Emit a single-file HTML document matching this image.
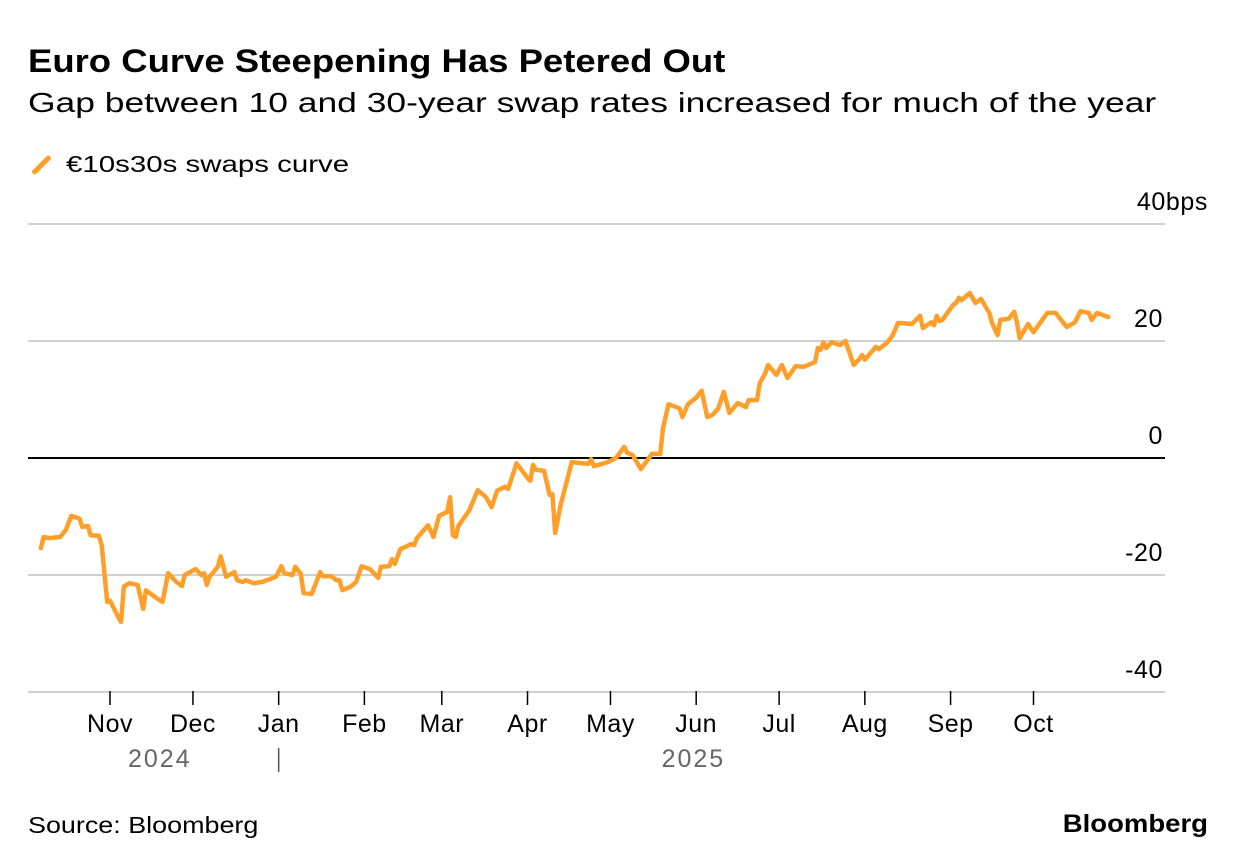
<!DOCTYPE html>
<html><head><meta charset="utf-8"><style>
body{margin:0;background:#fff;width:1237px;height:868px;overflow:hidden;font-family:"Liberation Sans",sans-serif;color:#000}
.t{position:absolute;white-space:nowrap;transform-origin:left top}
</style></head><body>
<div class="t" style="left:28px;top:43px;font-size:32px;font-weight:bold;transform:scaleX(1.14)">Euro Curve Steepening Has Petered Out</div>
<div class="t" style="left:28px;top:87px;font-size:28px;transform:scaleX(1.265)">Gap between 10 and 30-year swap rates increased for much of the year</div>
<div class="t" style="left:39px;top:153px;width:5px;height:24px;background:#ff9f2a;transform:rotate(45deg);transform-origin:center;border-radius:2px"></div>
<div class="t" style="left:66px;top:151px;font-size:23px;transform:scaleX(1.28)">€10s30s swaps curve</div>
<svg id="c" width="1237" height="868" style="position:absolute;left:0;top:0"></svg>
<div class="t" style="left:28px;top:812px;font-size:23px;transform:scaleX(1.17)">Source: Bloomberg</div>
<div class="t" style="right:29px;top:810px;font-size:25px;font-weight:bold;transform:scaleX(1.1);transform-origin:right top">Bloomberg</div>
<script>
const days=[-25,-24,-22,-18,-16,-14,-11,-10,-8,-7,-4,-3,-1,0,3,4,5,7,10,12,13,17,19,21,24,26,27,31,33,34,35,36,39,40,42,45,46,48,49,52,55,60,62,63,66,67,69,70,73,76,77,80,82,83,84,87,89,91,94,97,98,101,102,103,105,109,110,111,115,117,119,122,123,124,125,126,130,133,136,138,140,143,144,147,151,152,153,154,157,159,160,161,163,167,173,174,175,180,183,186,187,189,192,196,199,200,202,206,207,209,212,214,216,218,220,222,224,227,230,231,234,235,237,238,241,243,245,248,251,255,256,257,258,259,261,264,266,269,271,272,273,277,278,281,283,285,290,293,294,297,298,299,300,301,305,306,307,308,311,313,315,318,319,321,322,325,327,328,329,332,334,339,342,346,349,351,354,355,357,361];
const vals=[-15.4,-13.5,-13.7,-13.5,-12.3,-9.9,-10.4,-11.8,-11.6,-13.2,-13.3,-14.9,-24.6,-24.4,-27.2,-28,-22,-21.4,-21.7,-25.8,-22.6,-24,-24.6,-19.7,-21.2,-21.9,-20,-19,-20,-19.7,-21.7,-20.3,-18.6,-16.8,-20.3,-19.5,-20.9,-21.2,-20.9,-21.4,-21.2,-20.3,-18.5,-19.7,-20,-18.6,-19.8,-23.1,-23.2,-19.5,-20.2,-20.2,-20.9,-20.9,-22.6,-22,-21.2,-18.5,-19,-20.5,-18.6,-18.5,-17.3,-18.1,-15.6,-14.7,-14.9,-13.7,-11.5,-13.5,-9.9,-9.2,-6.7,-13.2,-13.5,-11.6,-8.9,-5.5,-6.7,-8.4,-5.6,-4.9,-5.3,-0.9,-3.4,-3.9,-1.2,-2,-2.2,-6.3,-6.2,-12.8,-8,-0.7,-1,-0.2,-1.4,-0.7,0,1.9,0.9,0.5,-1.9,0.7,0.7,5.1,9.2,8.5,7,9.2,10.3,11.5,7,7.4,8.5,11.3,7.7,9.4,8.7,9.9,9.9,12.8,14.5,15.9,14.2,15.9,13.7,15.7,15.6,16.4,18.8,18.5,19.8,18.8,19.8,19.3,20,15.9,16.9,17.6,16.8,19,18.6,19.7,20.9,23.1,22.9,24.3,22.2,23.2,22.7,24.3,23.4,23.6,26.2,26.5,27.4,27,28.2,26.5,27.2,24.8,23.1,21,23.6,23.8,25,23.2,20.5,22.9,21.5,24.8,24.8,22.4,23.2,25.1,24.8,23.6,24.8,24.1,23.1];
const yTicks=[40,20,0,-20,-40];
const yLabels=["40bps","20","0","-20","-40"];
const months=["Nov","Dec","Jan","Feb","Mar","Apr","May","Jun","Jul","Aug","Sep","Oct"];
const monthDays=[0,30,61,92,120,151,181,212,242,273,304,334];
const years=["2024","2025"];
const yearDays=[18,211];
const NS="http://www.w3.org/2000/svg";
const svg=document.getElementById('c');
const X=d=>110+d*2.765, Y=v=>458-v*5.85;
function el(t,a){const e=document.createElementNS(NS,t);for(const k in a)e.setAttribute(k,a[k]);svg.appendChild(e);return e;}
yTicks.forEach((v,i)=>{
 const l=el('line',{x1:28,x2:1165,y1:Y(v),y2:Y(v),stroke:v===0?'#000':'#cfcfcf','stroke-width':2});
 
 
 const t=el('text',{x:i===0?1208:1163,y:Y(v)-14,'text-anchor':'end','font-size':25,'letter-spacing':'0.6','font-family':'Liberation Sans'});
 t.textContent=yLabels[i];
 
 
});
months.forEach((m,i)=>{
 const x=X(monthDays[i]);
 const tk=el('line',{x1:x,x2:x,y1:691,y2:705,stroke:'#000','stroke-width':1.5});
 
 
 const t=el('text',{x:x,y:732,'text-anchor':'middle','font-size':25,'letter-spacing':'0.5','font-family':'Liberation Sans'});
 t.textContent=m;
 
 
});
years.forEach((y,i)=>{
 const t=el('text',{x:X(yearDays[i]),y:767,'text-anchor':'middle','font-size':25,fill:'#666','letter-spacing':'2','font-family':'Liberation Sans'});
 t.textContent=y;
 
 
});
const sep=el('line',{x1:X(61),x2:X(61),y1:748,y2:772,stroke:'#555','stroke-width':1.5});


const p=el('path',{d:days.map((d,i)=>(i?'L':'M')+X(d).toFixed(1)+','+Y(vals[i]).toFixed(1)).join(''),fill:'none',stroke:'#ff9f2a','stroke-width':4.5,'stroke-linejoin':'round','stroke-linecap':'round'});


</script>
</body></html>
